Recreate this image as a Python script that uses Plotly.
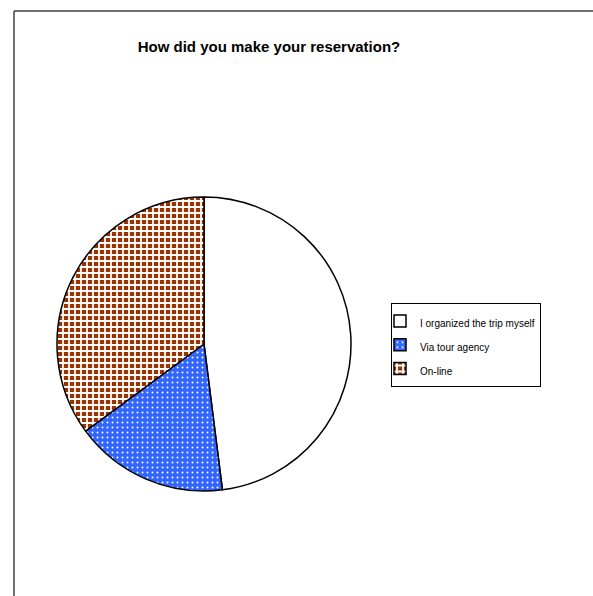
import plotly.graph_objects as go

W, H = 593, 596

labels = ["I organized the trip myself", "Via tour agency", "On-line"]
values = [48.0, 16.9, 35.1]

bg_colors = ["#ffffff", "#3366ff", "#993300"]
fg_colors = ["#ffffff", "#ffffff", "#ffffff"]
shapes = ["", ".", "+"]

# pie placement in pixels (centre and radius)
cx, cy, r = 204, 344, 147

legend_px = 10
fig = go.Figure(
    go.Pie(
        labels=[f'<span style="font-size:{legend_px}px">{t}</span>' for t in labels],
        values=values,
        sort=False,
        direction="clockwise",
        rotation=0,
        textinfo="none",
        hoverinfo="label+percent",
        marker=dict(
            colors=bg_colors,
            line=dict(color="#000000", width=1.5),
            pattern=dict(
                shape=shapes,
                bgcolor=bg_colors,
                fgcolor=fg_colors,
                size=[8, 5, 6],
                solidity=[0.3, 0.12, 0.5],
                fillmode="replace",
            ),
        ),
        domain=dict(
            x=[(cx - r) / W, (cx + r) / W],
            y=[1 - (cy + r) / H, 1 - (cy - r) / H],
        ),
    )
)

fig.update_layout(
    width=W,
    height=H,
    margin=dict(l=0, r=0, t=0, b=0),
    paper_bgcolor="#ffffff",
    plot_bgcolor="#ffffff",
    font=dict(family="Liberation Sans, Arial, sans-serif", color="#000000"),
    title=dict(
        text="<b>How did you make your reservation?</b>",
        x=269 / W,
        xanchor="center",
        y=1 - 47 / H,
        yanchor="middle",
        font=dict(size=15, color="#000000"),
    ),
    showlegend=True,
    legend=dict(
        x=391 / W,
        y=1 - 303 / H,
        xanchor="left",
        yanchor="top",
        bordercolor="#000000",
        borderwidth=1,
        bgcolor="#ffffff",
        font=dict(size=16, color="#000000"),
        traceorder="normal",
        indentation=-12,
    ),
    shapes=[
        dict(type="line", xref="paper", yref="paper",
             x0=14 / W, x1=1.01, y0=1 - 11 / H, y1=1 - 11 / H,
             line=dict(color="#404040", width=1.5)),
        dict(type="line", xref="paper", yref="paper",
             x0=14 / W, x1=14 / W, y0=1 - 11 / H, y1=-0.01,
             line=dict(color="#404040", width=1.5)),
    ],
)

fig.write_html("out.html")
